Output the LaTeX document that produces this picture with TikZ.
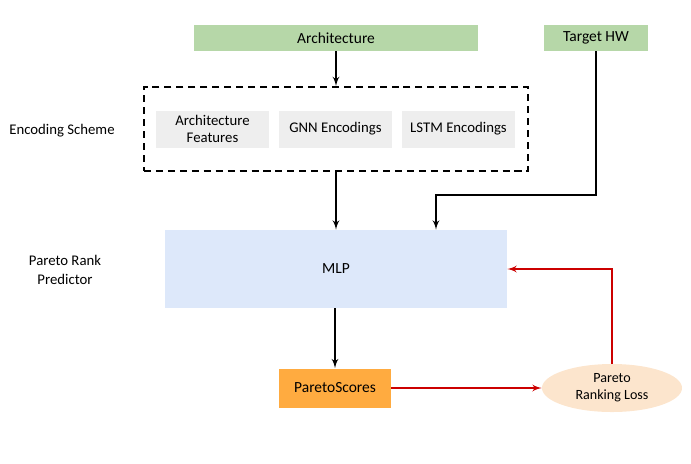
\documentclass[tikz,border=0pt]{standalone}
\usepackage{fontspec}
\setmainfont{Carlito}
\usepackage{tikz}
\usetikzlibrary{arrows}
\usetikzlibrary{calc}
\usetikzlibrary{shapes.geometric}
\definecolor{archgreen}{HTML}{B6D7A8}
\definecolor{featgray}{HTML}{EEEEEE}
\definecolor{mlpblue}{HTML}{DDE8FA}
\definecolor{scoreorange}{HTML}{FFAB40}
\definecolor{losspeach}{HTML}{FCE5CD}
\definecolor{lossred}{HTML}{CC0000}
\tikzstyle{input} = [fill=archgreen,inner sep=0pt,minimum height=0.65cm,font=\fontsize{11}{13}\selectfont]
\tikzstyle{feat} = [fill=featgray,inner sep=0pt,minimum width=2.825cm,minimum height=0.925cm,align=center,font=\fontsize{10.5}{12}\selectfont]
\tikzstyle{label} = [align=center,font=\fontsize{10.5}{14}\selectfont]
\tikzstyle{link} = [->,line width=1.3pt]

\begin{document}
\begin{tikzpicture}[>=latex',x=0.025cm,y=-0.025cm]

% Canvas
    \useasboundingbox (0,0) rectangle (691,463);

% Inputs
    \node[input,minimum width=7.075cm] at (336,38) (arch) {Architecture};
    \node[input,minimum width=2.575cm] at (596,38) (hw) {Target HW};

% Encoding scheme
    \node[draw,line width=1.3pt,dash pattern=on 5pt off 3.5pt,minimum width=9.6cm,minimum height=2.1cm] at (336,129) (enc) {};
    \node[feat] at (212.5,129) (feat) {Architecture\\Features};
    \node[feat] at (335.5,129) (gnn) {GNN Encodings};
    \node[feat] at (458.5,129) (lstm) {LSTM Encodings};
    \node[label] at (62,131) (enclab) {Encoding Scheme};

% Predictor
    \node[fill=mlpblue,minimum width=8.55cm,minimum height=1.95cm,font=\fontsize{11}{13}\selectfont] at (336,269) (mlp) {MLP};
    \node[label] at (65,270) (predlab) {Pareto Rank\\Predictor};
    \node[fill=scoreorange,minimum width=2.8cm,minimum height=0.975cm,font=\fontsize{11}{13}\selectfont] at (335,388) (scores) {ParetoScores};
    \node[ellipse,fill=losspeach,inner sep=0pt,minimum width=3.5cm,minimum height=1.2cm,align=center,font=\fontsize{10}{12}\selectfont] at (612,388) (loss) {Pareto\\Ranking Loss};
    \coordinate (hwdrop) at (436,195);

% Connectors
    \draw[link] (arch) -- (enc);
    \draw[link] (enc) -- (mlp.north -| enc.south);
    \draw[link] (hw.south) |- (hwdrop) -- (hwdrop |- mlp.north);
    \draw[link] (mlp.south -| scores.north) -- (scores);
    \draw[link, lossred] (scores) -- (loss);
    \draw[link, lossred] (loss.north) |- (mlp.east);

\end{tikzpicture}
\end{document}
